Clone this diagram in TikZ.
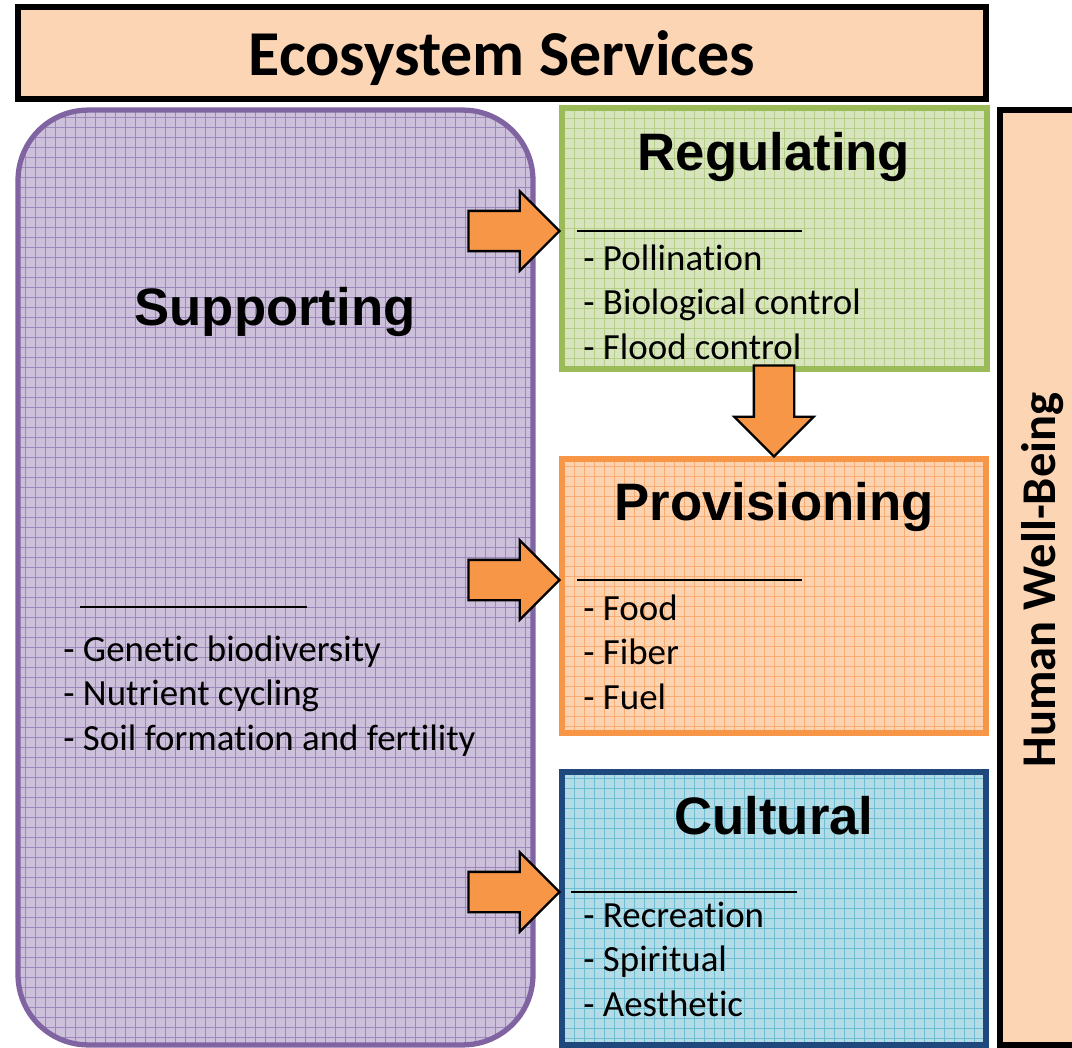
\documentclass[tikz,border=0pt]{standalone}
\usepackage{fontspec}
\setmainfont[Ligatures={TeX,NoCommon}]{Carlito}
\newfontfamily\headfont{Liberation Sans}
\usetikzlibrary{shapes.arrows}

\definecolor{peach}{HTML}{FCD5B5}
\definecolor{suppline}{HTML}{8064A2}
\definecolor{suppfill}{HTML}{CCC0DA}
\definecolor{suppgrid}{HTML}{9C88BE}
\definecolor{regline}{HTML}{9BBB59}
\definecolor{regfill}{HTML}{D7E4BD}
\definecolor{reggrid}{HTML}{B5CE88}
\definecolor{provline}{HTML}{F79646}
\definecolor{provfill}{HTML}{FCD3B0}
\definecolor{provgrid}{HTML}{F8AC72}
\definecolor{cultline}{HTML}{1F497D}
\definecolor{cultfill}{HTML}{B4DCE7}
\definecolor{cultgrid}{HTML}{6EBDD2}
\definecolor{arrowfill}{HTML}{F79646}

\begin{document}
\begin{tikzpicture}[x=0.02cm,y=-0.02cm,
    gridded/.style={path picture={\draw[#1, line width=0.45pt, step=0.2cm]
      (path picture bounding box.south west) grid (path picture bounding box.north east);}}]
  \tikzstyle{box} = [rectangle, line width=3pt, inner sep=0pt]
  \tikzstyle{head} = [font=\headfont\bfseries\fontsize{30}{36}\selectfont, anchor=base, inner sep=0pt]
  \tikzstyle{items} = [font=\fontsize{21}{25.2}\selectfont, align=left, anchor=base west, inner sep=0pt]
  \tikzstyle{rule} = [line width=1.3pt]
  \tikzstyle{fatarrow} = [single arrow, draw=black, line width=1.3pt, fill=arrowfill,
                          minimum height=1.82cm, inner sep=0.38cm, outer sep=0pt, anchor=tip,
                          single arrow head extend=0.39cm]

  \useasboundingbox (0,0) rectangle (1072,1048);

  % frame boxes
  \node (title) [box, draw=black, fill=peach, minimum width=19.36cm, minimum height=1.84cm] at (502,53) {};
  \node (titletext) [font=\bfseries\fontsize{36.4}{44}\selectfont, anchor=base, inner sep=0pt] at (502,75) {Ecosystem Services};
  \node (hwb) [box, draw=black, fill=peach, minimum width=1.6cm, minimum height=18.7cm] at (1040,577.5) {};
  \node (hwbtext) [font=\bfseries\fontsize{27.6}{34}\selectfont, rotate=90] at (1043,580) {Human Well-Being};

  % service boxes
  \node (supp) [box, draw=suppline, fill=suppfill, gridded=suppgrid, rounded corners=1.4cm,
                minimum width=10.3cm, minimum height=18.7cm] at (275.5,577.5) {};
  \node (reg) [box, draw=regline, fill=regfill, gridded=reggrid,
               minimum width=8.5cm, minimum height=5.22cm] at (774.5,238.5) {};
  \node (prov) [box, draw=provline, fill=provfill, gridded=provgrid,
                minimum width=8.48cm, minimum height=5.48cm] at (774,596) {};
  \node (cult) [box, draw=cultline, fill=cultfill, gridded=cultgrid,
                minimum width=8.48cm, minimum height=5.46cm] at (774,908.5) {};

  % headings and lists (base = last line)
  \node (supphead) [head] at (275,325) {Supporting};
  \coordinate (suppa) at (80,607);
  \coordinate (suppb) at (307,607);
  \draw[rule] (suppa) -- (suppb);
  \node (supplist) [items] at (63,750) {- Genetic biodiversity\\- Nutrient cycling\\- Soil formation and fertility};

  \node (reghead) [head] at (774,170) {Regulating};
  \coordinate (rega) at (577,231);
  \coordinate (regb) at (802,231);
  \draw[rule] (rega) -- (regb);
  \node (reglist) [items] at (583,359) {- Pollination\\- Biological control\\- Flood control};

  \node (provhead) [head] at (774,520) {Provisioning};
  \coordinate (prova) at (577,580);
  \coordinate (provb) at (802,580);
  \draw[rule] (prova) -- (provb);
  \node (provlist) [items] at (583,709) {- Food\\- Fiber\\- Fuel};

  \node (culthead) [head] at (774,834) {Cultural};
  \coordinate (culta) at (571,892);
  \coordinate (cultb) at (797,892);
  \draw[rule] (culta) -- (cultb);
  \node (cultlist) [items] at (583,1016) {- Recreation\\- Spiritual\\- Aesthetic};

  % block arrows, tips on the box edges
  \node (toreg) [fatarrow] at (reg.west |- rega) {};
  \node (toprov) [fatarrow] at (prov.west |- prova) {};
  \node (tocult) [fatarrow] at (cult.west |- culta) {};
  \node (regprov) [fatarrow, shape border rotate=270] at (prov.north) {};
\end{tikzpicture}
\end{document}
